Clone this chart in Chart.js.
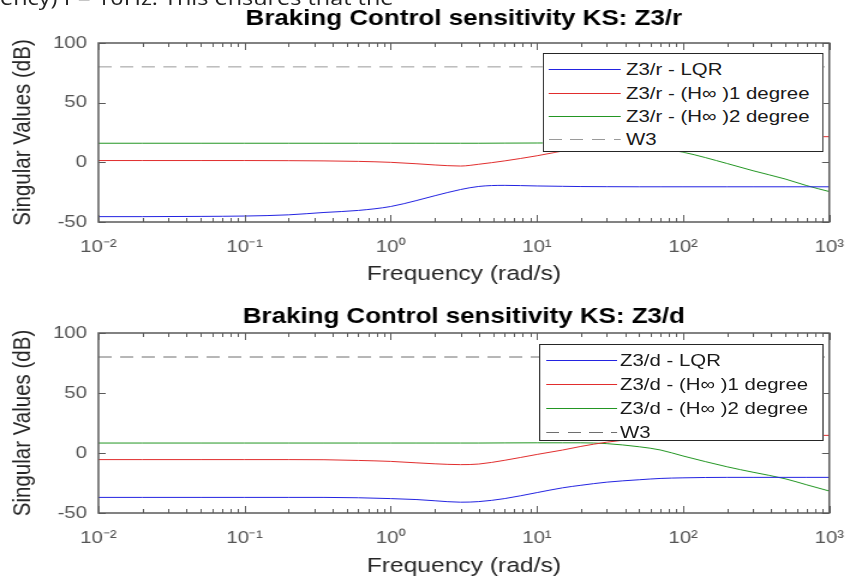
<!DOCTYPE html>
<html>
<head>
<meta charset="utf-8">
<script src="https://cdn.jsdelivr.net/npm/chart.js@4.4.0/dist/chart.umd.min.js"></script>
<style>
html, body { margin:0; padding:0; background:#fff; overflow:hidden; width:862px; height:577px; }
#wrap { position:absolute; left:0; top:0; width:718px; height:577px; transform:scaleX(1.2006); transform-origin:0 0; }
canvas { position:absolute; left:0; }
#frag { position:absolute; left:0; top:-16.5px; font:19.5px 'Open Sans', sans-serif; color:#222; white-space:nowrap; }
.legend { position:absolute; background:#fff; border:1px solid #262626; box-sizing:border-box;
  font-family:'Liberation Sans', Arial, sans-serif; font-size:17px; color:#1a1a1a; }
.legend .ln { position:absolute; height:1px; }
.legend .tx { position:absolute; line-height:22px; white-space:nowrap; }
</style>
</head>
<body>
<div id="wrap">
  <div id="frag">ency) f = 10Hz. This ensures that the</div>
  <canvas id="top" width="718" height="290" style="top:0"></canvas>
  <canvas id="bot" width="718" height="300" style="top:290px"></canvas>
  <div class="legend" id="lgTop"></div>
  <div class="legend" id="lgBot"></div>
</div>
<script>
// frequency points (rad/s)
const freq = [0.01, 0.02, 0.05, 0.1, 0.2, 0.35, 0.6, 1, 1.5, 2, 3, 4, 6, 10, 15, 20, 30, 50, 70, 100, 200, 300, 500, 700, 1000];

// KS: Z3/r (dB)
const lqrTop = [-45.5, -45.5, -45.3, -45, -44, -42, -40.3, -37, -32, -28, -22.8, -20.2, -19.3, -19.8, -20.1, -20.3, -20.4, -20.5, -20.5, -20.5, -20.5, -20.5, -20.5, -20.5, -20.5];
const h1Top  = [1.5, 1.5, 1.5, 1.5, 1.4, 1.2, 0.8, 0, -1.2, -2.2, -3.1, -1.6, 1.2, 5.5, 9.5, 12.5, 16, 19, 20.5, 21.3, 21.5, 21.5, 21.5, 21.5, 21.5];
const h2Top  = [16, 16, 16, 16, 16, 16, 16, 16, 16, 16, 16, 16, 16.1, 16.2, 16.3, 16.3, 15.8, 13.8, 11.5, 8.5, -1, -7, -14, -19.5, -24.5];

// KS: Z3/d (dB)
const lqrBot = [-37, -37, -37, -37, -37, -37, -37.3, -38, -38.8, -39.8, -41, -40.5, -38, -33, -29, -26.9, -24.3, -22.3, -21.2, -20.7, -20.3, -20.3, -20.3, -20.3, -20.3];
const h1Bot  = [-5.5, -5.5, -5.5, -5.5, -5.5, -5.6, -6.2, -7, -8.2, -9, -9.7, -9.2, -6.1, -1.2, 2.5, 5.5, 9, 12, 13.3, 14, 14.6, 14.7, 14.7, 14.7, 14.7];
const h2Bot  = [8.3, 8.3, 8.3, 8.3, 8.3, 8.3, 8.3, 8.3, 8.3, 8.3, 8.3, 8.3, 8.4, 8.5, 8.5, 8.5, 7.8, 5.2, 2.5, -2.5, -11.5, -16, -21.5, -26.5, -31.7];

// weight W3 (dB)
const w3Level = 80;

const labelsTop = ['Z3/r - LQR', 'Z3/r - (H\u221E )1 degree', 'Z3/r - (H\u221E )2 degree', 'W3'];
const labelsBot = ['Z3/d - LQR', 'Z3/d - (H\u221E )1 degree', 'Z3/d - (H\u221E )2 degree', 'W3'];

const xTickValues = [0.01, 0.1, 1, 10, 100, 1000];
const xTickLabels = ['10\u207B\u00B2', '10\u207B\u00B9', '10\u2070', '10\u00B9', '10\u00B2', '10\u00B3'];
const yTickStep = 50;

const lineColors = ['rgb(35,35,225)', 'rgb(225,45,45)', 'rgb(35,150,35)'];
const font = "'Liberation Sans', Arial, sans-serif";

// minor ticks 2..9 in each decade
const xAllTicks = [];
xTickValues.forEach((d, i) => {
  xAllTicks.push(d);
  if (i < xTickValues.length - 1) for (let k = 2; k <= 9; k++) xAllTicks.push(+(d * k).toPrecision(6));
});

function xLabelFor(v) {
  const i = xTickValues.findIndex(t => Math.abs(t - v) < t * 1e-6);
  return i >= 0 ? xTickLabels[i] : '';
}

// matlab style box with inward ticks
const frameTicks = {
  id: 'frameTicks',
  afterDatasetsDraw(chart) {
    const { ctx, chartArea: a, scales: { x, y } } = chart;
    ctx.save();
    ctx.strokeStyle = '#5a5a5a';
    ctx.lineWidth = 1;
    ctx.beginPath();
    x.ticks.forEach(t => {
      const px = Math.round(x.getPixelForValue(t.value)) + 0.5;
      const len = xLabelFor(t.value) ? 7 : 4;
      ctx.moveTo(px, a.bottom); ctx.lineTo(px, a.bottom - len);
      ctx.moveTo(px, a.top); ctx.lineTo(px, a.top + len);
    });
    y.ticks.forEach(t => {
      const py = Math.round(y.getPixelForValue(t.value)) + 0.5;
      ctx.moveTo(a.left, py); ctx.lineTo(a.left + 6, py);
      ctx.moveTo(a.right, py); ctx.lineTo(a.right - 6, py);
    });
    ctx.stroke();
    ctx.lineWidth = 1.5;
    ctx.strokeRect(a.left, a.top, a.right - a.left, a.bottom - a.top);
    ctx.restore();
  }
};

function series(label, vals, color) {
  return {
    label: label,
    data: freq.map((f, i) => ({ x: f, y: vals[i] })),
    borderColor: color, borderWidth: 1, pointRadius: 0, fill: false,
    cubicInterpolationMode: 'monotone'
  };
}

function makeChart(id, c) {
  return new Chart(document.getElementById(id), {
    type: 'line',
    data: {
      datasets: [
        series(c.labels[0], c.lqr, lineColors[0]),
        series(c.labels[1], c.h1, lineColors[1]),
        series(c.labels[2], c.h2, lineColors[2]),
        {
          label: c.labels[3],
          data: [{ x: xTickValues[0], y: w3Level }, { x: xTickValues[xTickValues.length - 1], y: w3Level }],
          borderColor: c.w3Color, borderWidth: 1, borderDash: [11, 7], pointRadius: 0, fill: false
        }
      ]
    },
    options: {
      responsive: false,
      animation: false,
      devicePixelRatio: 1,
      layout: { padding: { left: 0, right: 17, top: 0, bottom: 0 } },
      plugins: {
        legend: { display: false },
        tooltip: { enabled: false },
        title: {
          display: true, fullSize: false, text: c.title, color: '#000',
          font: { family: font, size: 21.6, weight: 'bold' },
          padding: { top: c.titleTop, bottom: c.titleBottom }
        }
      },
      scales: {
        x: {
          type: 'logarithmic',
          min: xTickValues[0], max: xTickValues[xTickValues.length - 1],
          afterBuildTicks: s => { s.ticks = xAllTicks.map(v => ({ value: v })); },
          afterFit: s => { s.height = c.xHeight; },
          grid: { display: false, drawTicks: false },
          border: { display: false },
          ticks: {
            autoSkip: false, maxRotation: 0, minRotation: 0, padding: 15,
            color: '#555', font: { family: font, size: 17 },
            callback: v => xLabelFor(v)
          },
          title: {
            display: true, text: 'Frequency (rad/s)', color: '#262626',
            font: { family: font, size: 20.5 }, padding: { top: 0, bottom: c.xTitlePad }
          }
        },
        y: {
          min: -50, max: 100,
          afterFit: s => { s.width = 82; },
          grid: { display: false, drawTicks: false },
          border: { display: false },
          ticks: { stepSize: yTickStep, padding: 9.5, color: '#555', font: { family: font, size: 17 } },
          title: {
            display: true, text: 'Singular Values (dB)', color: '#262626',
            font: { family: font, size: 20.5 }, padding: { top: 7, bottom: 0 }
          }
        }
      }
    },
    plugins: [frameTicks]
  });
}

makeChart('top', {
  title: 'Braking Control sensitivity KS: Z3/r', labels: labelsTop,
  lqr: lqrTop, h1: h1Top, h2: h2Top, w3Color: '#9a9a9a',
  titleTop: 6, titleBottom: 11.08, xHeight: 68, xTitlePad: 3.7
});
makeChart('bot', {
  title: 'Braking Control sensitivity KS: Z3/d', labels: labelsBot,
  lqr: lqrBot, h1: h1Bot, h2: h2Bot, w3Color: '#6e6e6e',
  titleTop: 14.5, titleBottom: 2.58, xHeight: 77, xTitlePad: 11.2
});

function buildLegend(id, labels, w3Color, box) {
  const el = document.getElementById(id);
  Object.assign(el.style, { left: box.left + 'px', top: box.top + 'px', width: box.width + 'px', height: box.height + 'px' });
  const colors = lineColors.concat([w3Color]);
  labels.forEach((txt, i) => {
    const cy = Math.round(box.firstRow + i * box.rowGap);
    const ln = document.createElement('div');
    ln.className = 'ln';
    ln.style.left = box.lineX + 'px';
    ln.style.width = box.lineW + 'px';
    ln.style.top = cy + 'px';
    ln.style.background = i === 3
      ? 'repeating-linear-gradient(to right, ' + colors[i] + ' 0 11px, transparent 11px 18px)'
      : colors[i];
    const tx = document.createElement('div');
    tx.className = 'tx';
    tx.style.left = box.textX + 'px';
    tx.style.top = (cy - 10.5) + 'px';
    tx.textContent = txt;
    el.appendChild(ln);
    el.appendChild(tx);
  });
}

buildLegend('lgTop', labelsTop, '#9a9a9a', { left: 452, top: 53, width: 234, height: 99, firstRow: 15.3, rowGap: 23.3, lineX: 4.3, lineW: 60, textX: 68.4 });
buildLegend('lgBot', labelsBot, '#6e6e6e', { left: 449, top: 344, width: 236.5, height: 97, firstRow: 15, rowGap: 24, lineX: 4.8, lineW: 59, textX: 66.4 });
</script>
</body>
</html>
